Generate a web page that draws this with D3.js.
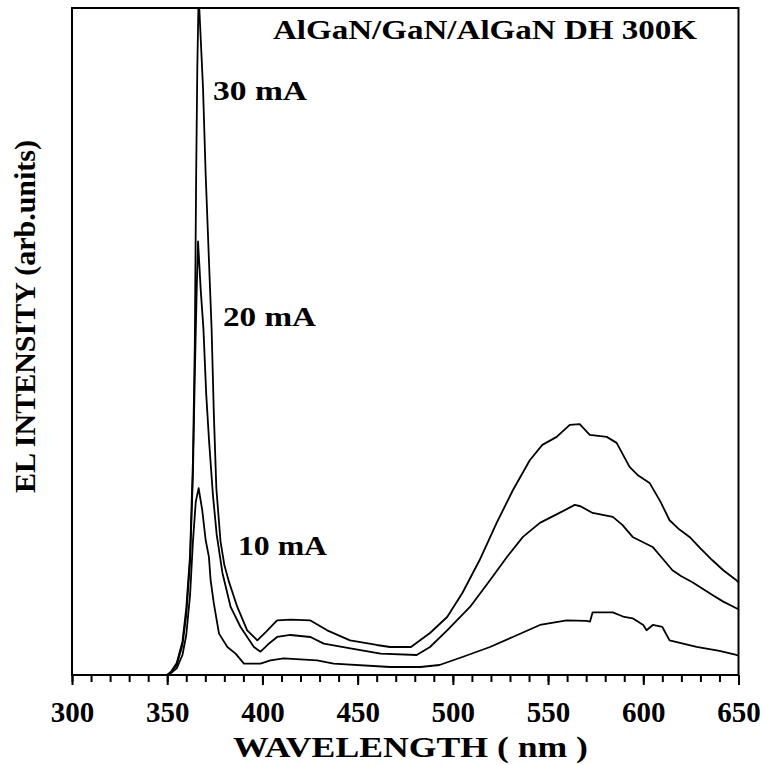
<!DOCTYPE html>
<html lang="en">
	<head>
		<meta charset="utf-8">
		<title>EL spectra</title>
		<script type="text/javascript" src="https://cdn.jsdelivr.net/npm/d3@7"></script>
		<style type="text/css">
			body{
				margin: 0;
				background: white;
			}
			text{
				font-family: "Liberation Serif", "DejaVu Serif", serif;
				font-weight: bold;
				fill: black;
			}
		</style>
	</head>
	<body>
		<div class="chart">
		</div>
		<script type="text/javascript">

			// wavelength (nm) and intensity (arb. units)
			var wave30 = [345,350,352,355,358,360,362,363.5,364.5,365.2,365.8,366.5,367.5,368.8,370.2,371.8,373.3,374.5,375.8,378,380,382.4,386.8,392,397.3,402,407.7,415,425,434,446,460,467,478,488,497,505,514,523,531.5,540.4,547,554.5,561.4,566.6,571.9,580.8,586,592.8,597,603.3,609,613.8,619,624.3,630,636.3,642,648.9,650];
			var int30 = [0,0,0.5,1.8,5,10,18,32,50,75,91,102,96,88,75,63,52,39,28,20,16.5,14,10.2,6.7,5.2,6.5,8.2,8.3,8.2,6.7,5.2,4.5,4.2,4.2,6.3,8.7,12.3,17.2,22.8,27.7,32.2,34.5,35.7,37.5,37.6,36,35.7,34.8,31.2,30,28.8,26,23.2,21.8,20.7,19,17.2,15.7,14.2,13.9];

			var wave20 = [345,350,352,355,358,360,362,363.5,364.5,365.5,366.2,367.6,369,370.5,372,374,376,379,383.3,388.5,395.5,399,403,407.7,414.7,425.2,432.2,446.2,462,481,488,497,509,519.5,528.4,536.8,545.7,556,564,567,573.4,584,589,594.4,604.9,610,615.3,620,625.8,636.3,642,648.9,650];
			var int20 = [0,0,0.4,1.5,4.5,9,17,30,45,58,65,57.7,52,42,35,27,21,15.3,10.2,7.2,4.2,3.5,4.6,5.7,6,5.7,4.7,4,3.2,3,4.2,6.7,10.2,14.2,17.7,20.7,22.8,24.3,25.5,25.3,24.3,23.7,22.5,20.7,19.2,17.5,15.7,14.8,13.9,12,11,10,9.9];

			var wave10 = [345,350,352,355,358,360,362,363.5,365,366.5,368.4,370.2,371.9,372.8,374.5,377.2,381.6,385.9,390.3,399,404.2,411.2,428.7,437.4,467,483,493,505,519.5,531.5,545.7,559.8,570,572,573.4,584,590,594.4,600,601.7,605,610,613.8,628,640,648.9,650];
			var int10 = [0,0,0.3,1,3,6,12,20,26,28,24.7,20.2,17.7,14.2,10.7,6.2,4.2,3.2,1.7,1.7,2.2,2.5,2.2,1.7,1.2,1.2,1.5,2.7,4.2,5.7,7.5,8.2,8.1,8,9.4,9.4,8.7,8.5,7.5,6.7,7.5,7.2,5.2,4.2,3.6,3,2.9];

			var seriesNames = ["30 mA", "20 mA", "10 mA"];
			var xTicks = [300,350,400,450,500,550,600,650];

			var w = 764;
			var h = 765;

			var plotL = 72, plotR = 738.5, plotT = 8, plotB = 675;

			var svg = d3.select("div.chart")
						.append("svg")
						.attr("width", w)
						.attr("height", h);

			var xScale = d3.scaleLinear()
						.domain([300, 650])
						.range([plotL, plotR]);

			var yScale = d3.scaleLinear()
						.domain([0, 100])
						.range([plotB, plotT]);

			svg.append("clipPath")
				.attr("id", "plotclip")
				.append("rect")
				.attr("x", plotL)
				.attr("y", plotT)
				.attr("width", plotR - plotL)
				.attr("height", plotB - plotT);

			var line = d3.line()
						.x((d) => xScale(d[0]))
						.y((d) => yScale(d[1]));

			var series = [
				d3.zip(wave30, int30),
				d3.zip(wave20, int20),
				d3.zip(wave10, int10)
			];

			svg.append("g")
				.attr("clip-path", "url(#plotclip)")
				.selectAll("path")
				.data(series)
				.enter()
				.append("path")
				.attr("d", line)
				.attr("fill", "none")
				.attr("stroke", "black")
				.attr("stroke-width", 1.8)
				.attr("stroke-linejoin", "round");

			// minor ticks every 10 nm
			var minorAxis = d3.axisBottom(xScale)
						.tickValues(d3.range(300, 651, 10))
						.tickSize(7)
						.tickFormat("");

			svg.append("g")
				.attr("class", "xMinor")
				.attr("transform", "translate(0," + plotB + ")")
				.call(minorAxis);

			var xAxis = d3.axisBottom(xScale)
						.tickValues(xTicks)
						.tickSize(10)
						.tickFormat(d3.format("d"));

			var xg = svg.append("g")
				.attr("class", "xAxis")
				.attr("transform", "translate(0," + plotB + ")")
				.call(xAxis);

			svg.selectAll(".xMinor path, .xAxis path").remove();
			svg.selectAll(".xMinor line, .xAxis line")
				.attr("stroke", "black")
				.attr("stroke-width", 2);

			xg.selectAll("text")
				.attr("y", 47)
				.attr("dy", 0)
				.style("font-family", "'Liberation Serif', serif")
				.style("font-weight", "bold")
				.style("font-size", "29px")
				.attr("fill", "black");

			// frame
			svg.append("rect")
				.attr("x", plotL)
				.attr("y", plotT)
				.attr("width", plotR - plotL)
				.attr("height", plotB - plotT)
				.attr("fill", "none")
				.attr("stroke", "black")
				.attr("stroke-width", 2);

			function label(txt, x, y, len, size){
				return svg.append("text")
					.attr("x", x)
					.attr("y", y)
					.attr("textLength", len)
					.attr("lengthAdjust", "spacingAndGlyphs")
					.style("font-size", size + "px")
					.text(txt);
			}

			label("AlGaN/GaN/AlGaN DH 300K", 273, 39, 424, 27);

			label(seriesNames[0], 213, 100, 94, 28);
			label(seriesNames[1], 223, 326, 93, 28);
			label(seriesNames[2], 238, 555, 89, 28);

			label("WAVELENGTH ( nm )", 233, 757, 355, 29);

			svg.append("text")
				.attr("transform", "translate(35,316.5) rotate(-90)")
				.attr("text-anchor", "middle")
				.attr("textLength", 353)
				.attr("lengthAdjust", "spacingAndGlyphs")
				.style("font-size", "30px")
				.text("EL INTENSITY (arb.units)");

		</script>
	</body>
</html>
